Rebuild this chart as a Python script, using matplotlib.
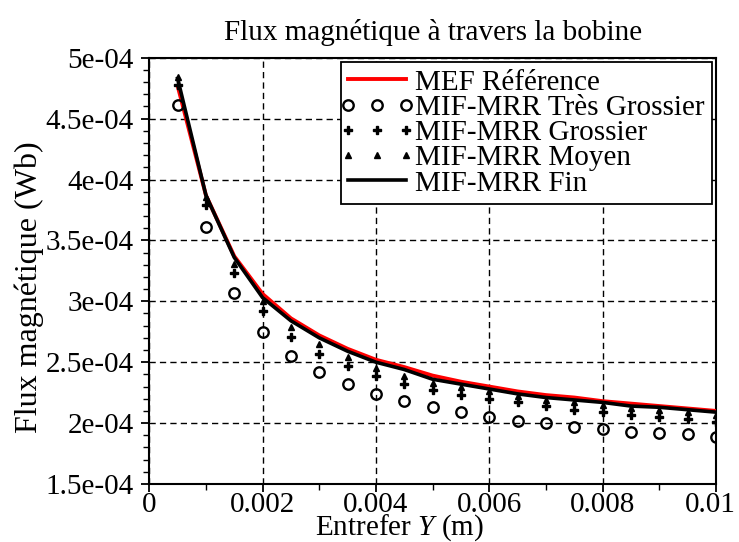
import matplotlib
matplotlib.use("Agg")
import matplotlib.pyplot as plt
from matplotlib.ticker import MultipleLocator
from matplotlib.legend_handler import HandlerLine2D
from matplotlib.transforms import ScaledTranslation

plt.rcParams['font.family'] = ['Liberation Serif', 'DejaVu Serif']
plt.rcParams['mathtext.fontset'] = 'custom'
plt.rcParams['mathtext.it'] = 'Liberation Serif:italic'
plt.rcParams['mathtext.rm'] = 'Liberation Serif'

# Air gap values (m)
entrefer = [0.0005, 0.0010, 0.0015, 0.0020, 0.0025, 0.0030, 0.0035, 0.0040, 0.0045, 0.0050,
            0.0055, 0.0060, 0.0065, 0.0070, 0.0075, 0.0080, 0.0085, 0.0090, 0.0095, 0.0100]

# Flux values (Wb), in units of 1e-4
mef_ref = [4.77, 3.87, 3.37, 3.06, 2.86, 2.72, 2.61, 2.52, 2.46, 2.39,
           2.34, 2.30, 2.26, 2.23, 2.21, 2.18, 2.16, 2.14, 2.12, 2.10]
tres_grossier = [4.61, 3.61, 3.07, 2.75, 2.55, 2.42, 2.32, 2.24, 2.18, 2.13,
                 2.09, 2.05, 2.02, 2.00, 1.97, 1.95, 1.93, 1.92, 1.91, 1.89]
grossier = [4.78, 3.79, 3.23, 2.92, 2.71, 2.57, 2.47, 2.39, 2.32, 2.27,
            2.23, 2.20, 2.17, 2.14, 2.11, 2.09, 2.07, 2.05, 2.03, 2.01]
moyen = [4.84, 3.86, 3.31, 3.00, 2.79, 2.65, 2.54, 2.45, 2.39, 2.33,
         2.30, 2.26, 2.22, 2.19, 2.17, 2.15, 2.12, 2.11, 2.09, 2.07]
fin = [4.83, 3.87, 3.36, 3.03, 2.84, 2.70, 2.59, 2.50, 2.44, 2.36,
       2.32, 2.28, 2.24, 2.21, 2.19, 2.17, 2.14, 2.13, 2.11, 2.09]

scale = 1e-4
y_ticks = [1.5e-4, 2e-4, 2.5e-4, 3e-4, 3.5e-4, 4e-4, 4.5e-4, 5e-4]
y_tick_labels = ['1.5e-04', '2e-04', '2.5e-04', '3e-04', '3.5e-04', '4e-04', '4.5e-04', '5e-04']
x_ticks = [0, 0.002, 0.004, 0.006, 0.008, 0.01]
x_tick_labels = ['0', '0.002', '0.004', '0.006', '0.008', '0.01']

fig = plt.figure(figsize=(7.39, 5.42), dpi=100)
ax = fig.add_axes([0.2020, 0.1070, 0.7668, 0.7865])

def sc(v):
    return [a * scale for a in v]

ax.plot(entrefer, sc(mef_ref), color='red', lw=2.8, label='MEF Référence', zorder=3)
ax.plot(entrefer, sc(tres_grossier), ls='none', marker='o', ms=7.5, mfc='none', mec='black',
        mew=1.7, label='MIF-MRR Très Grossier', zorder=4)
ax.plot(entrefer, sc(grossier), ls='none', marker='P', ms=6, color='black',
        label='MIF-MRR Grossier', zorder=4)
ax.plot(entrefer, sc(moyen), ls='none', marker='^', ms=4.5, color='black',
        label='MIF-MRR Moyen', zorder=4)
ax.plot(entrefer, sc(fin), color='black', lw=2.6, label='MIF-MRR Fin', zorder=5)

ax.set_xlim(0, 0.01)
ax.set_ylim(1.5e-4, 5e-4)
ax.set_xticks(x_ticks)
ax.set_xticklabels(x_tick_labels)
ax.set_yticks(y_ticks)
ax.set_yticklabels(y_tick_labels)
ax.xaxis.set_minor_locator(MultipleLocator(0.001))
ax.yaxis.set_minor_locator(MultipleLocator(0.1e-4))
ax.tick_params(which='major', direction='out', length=6, width=1.3, labelsize=21)
ax.tick_params(axis='x', which='major', pad=0)
ax.tick_params(axis='y', which='major', pad=5)
ax.tick_params(which='minor', direction='out', length=4, width=1.0)
for s in ax.spines.values():
    s.set_linewidth(1.5)

# nudge last x tick label so it stays inside the figure
lab = ax.get_xticklabels()[-1]
lab.set_transform(lab.get_transform() + ScaledTranslation(-4 / 72, 0, fig.dpi_scale_trans))

ax.grid(True, which='major', color='black', ls=(0, (4.5, 3)), lw=1.0)
ax.set_axisbelow(True)

ax.set_title('Flux magnétique à travers la bobine', fontsize=21, pad=13)
ax.set_xlabel('Entrefer $Y$ (m)', fontsize=21)
ax.xaxis.set_label_coords(0.4416, -0.066)
ax.set_ylabel('Flux magnétique (Wb)', fontsize=23)
ax.yaxis.set_label_coords(-0.1855, 0.462)

leg = ax.legend(loc='upper right', fontsize=21, numpoints=3, handlelength=2.0,
                handletextpad=0.3, labelspacing=-0.04, borderpad=0.25,
                fancybox=False, framealpha=1, edgecolor='black',
                bbox_to_anchor=(0.993, 0.990), borderaxespad=0,
                handler_map={matplotlib.lines.Line2D: HandlerLine2D(marker_pad=0)})
leg.get_frame().set_linewidth(1.3)

fig.savefig('out.png', dpi=100)
